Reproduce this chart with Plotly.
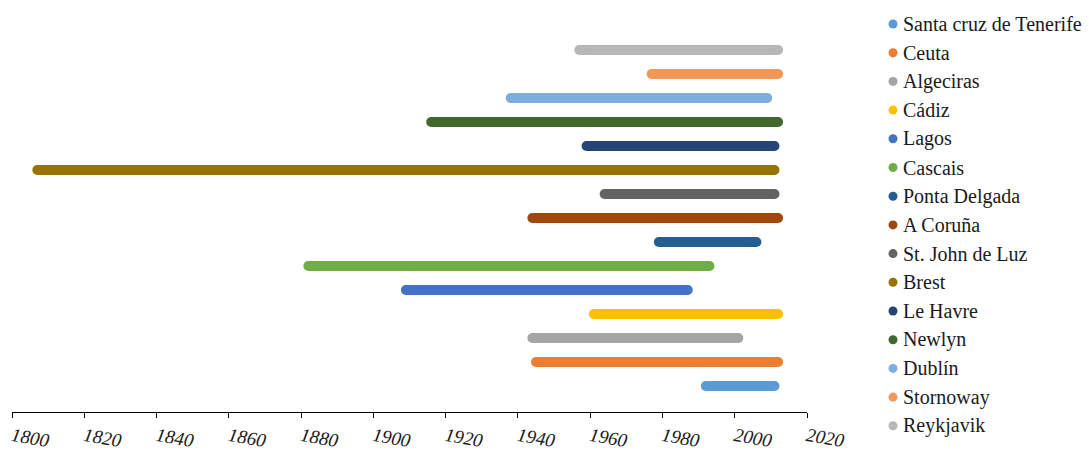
import plotly.graph_objects as go

# Tide-gauge stations, listed bottom-to-top on the chart (legend reads top-to-bottom)
stations = [
    "Santa cruz de Tenerife", "Ceuta", "Algeciras", "Cádiz", "Lagos", "Cascais",
    "Ponta Delgada", "A Coruña", "St. John de Luz", "Brest", "Le Havre", "Newlyn",
    "Dublín", "Stornoway", "Reykjavik",
]
start_year = [1992, 1945, 1944, 1961, 1909, 1882, 1979, 1944, 1964, 1807, 1959, 1916, 1938, 1977, 1957]
end_year = [2011, 2012, 2001, 2012, 1987, 1993, 2006, 2012, 2011, 2011, 2011, 2012, 2009, 2012, 2012]
colors = [
    "#5B9BD5", "#ED7D31", "#A5A5A5", "#FFC000", "#4472C4", "#70AD47",
    "#255E91", "#9E480E", "#636363", "#997300", "#264478", "#43682B",
    "#7CAFDD", "#F1975A", "#B7B7B7",
]
tick_years = list(range(1800, 2021, 20))

SERIF = "'Liberation Serif', 'Times New Roman', Times, 'DejaVu Serif', serif"

W, H = 1089, 452
M_L, M_R, M_T, M_B = 12, 282, 38, 40
plot_w = W - M_L - M_R
plot_h = H - M_T - M_B

fig = go.Figure()

# One thick span per station, with round end caps made from circle markers
for name, s, e, c in zip(stations, start_year, end_year, colors):
    fig.add_trace(go.Scatter(
        x=[s, e], y=[name, name],
        mode="lines+markers",
        line=dict(color=c, width=10),
        marker=dict(color=c, size=10, symbol="circle", line=dict(width=0)),
        showlegend=False,
        hoverinfo="x+y",
    ))

# Legend drawn on the right: dot + station name, top entry = bottom span
def px_to_paper_x(px):
    return (px - M_L) / plot_w

def px_to_paper_y(py):
    return (H - M_B - py) / plot_h

shapes = []
annotations = []
for i, (name, c) in enumerate(zip(stations, colors)):
    py = 24 + 28.7 * i
    shapes.append(dict(
        type="circle", xref="paper", yref="paper",
        xsizemode="pixel", ysizemode="pixel",
        xanchor=px_to_paper_x(893), yanchor=px_to_paper_y(py),
        x0=-4.5, x1=4.5, y0=-4.5, y1=4.5,
        fillcolor=c, line=dict(width=0),
    ))
    annotations.append(dict(
        xref="paper", yref="paper",
        x=px_to_paper_x(901), y=px_to_paper_y(py),
        xanchor="left", yanchor="middle",
        text=name, showarrow=False,
        font=dict(family=SERIF, size=20, color="#1a1a1a"),
    ))

fig.update_layout(
    width=W, height=H,
    margin=dict(l=M_L, r=M_R, t=M_T, b=M_B, pad=0, autoexpand=False),
    paper_bgcolor="white", plot_bgcolor="white",
    font=dict(family=SERIF),
    shapes=shapes, annotations=annotations,
    showlegend=False,
    xaxis=dict(
        range=[1800, 2020], automargin=False,
        tickmode="array", tickvals=tick_years, ticktext=[str(y) for y in tick_years],
        ticks="outside", ticklen=5, tickcolor="#000", tickwidth=1,
        showline=True, linecolor="#000", linewidth=1,
        showgrid=False, zeroline=False,
        tickangle=10,
        tickfont=dict(family=SERIF, size=19, style="italic", color="#1a1a1a"),
    ),
    yaxis=dict(
        type="category", categoryorder="array", categoryarray=stations,
        range=[-1.083, 14.5], automargin=False,
        showticklabels=False, ticks="", showgrid=False, zeroline=False, showline=False,
    ),
)

fig.write_html("out.html")
